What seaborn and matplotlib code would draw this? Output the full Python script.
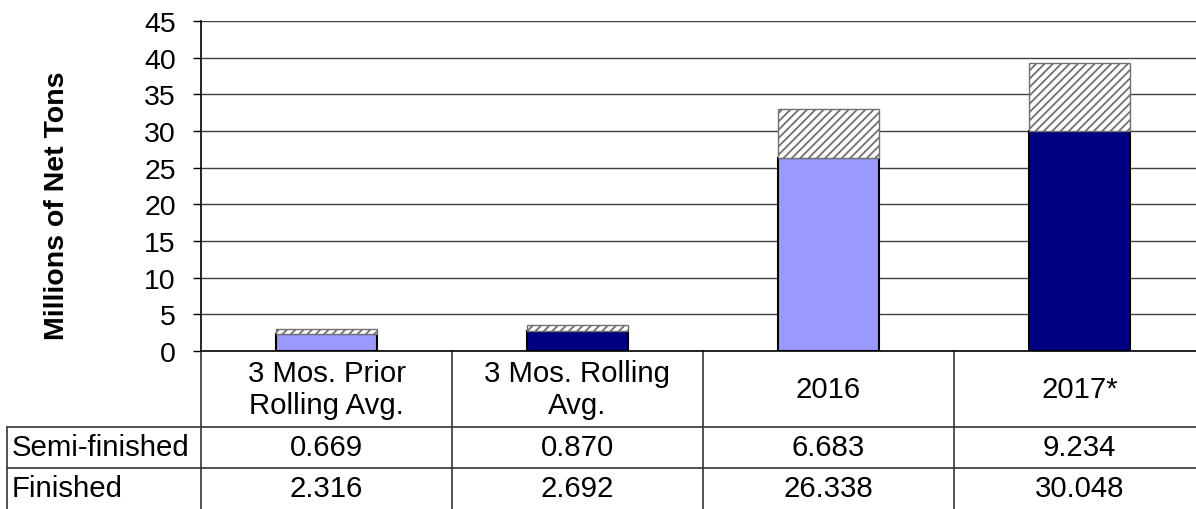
import matplotlib.pyplot as plt
import seaborn as sns
from matplotlib.transforms import blended_transform_factory

categories = ["3 Mos. Prior\nRolling Avg.", "3 Mos. Rolling\nAvg.", "2016", "2017*"]
semi_finished = [0.669, 0.870, 6.683, 9.234]
finished = [2.316, 2.692, 26.338, 30.048]
row_labels = ["Semi-finished", "Finished"]
finished_colors = ["#9999FF", "#000080", "#9999FF", "#000080"]

sns.set_theme(style="white")
plt.rcParams["font.family"] = ["Liberation Sans", "DejaVu Sans"]
plt.rcParams["hatch.linewidth"] = 1.3

W, H = 1196, 510
fig = plt.figure(figsize=(W / 100, H / 100), dpi=100)
ax = fig.add_axes([201 / W, 158 / H, 1004 / W, 330 / H])

# finished on the bottom, semi-finished hatched on top
sns.barplot(x=categories, y=finished, hue=categories, palette=finished_colors,
            legend=False, width=0.4, edgecolor="black", linewidth=1.5,
            saturation=1, errorbar=None, ax=ax)
sns.barplot(x=categories, y=semi_finished, bottom=finished, color="white",
            width=0.4, edgecolor="#707070", linewidth=1, hatch="////",
            saturation=1, errorbar=None, ax=ax)

ax.set_xlim(-0.5, 3.5)
ax.set_ylim(0, 45)
ax.set_yticks(range(0, 50, 5))
ax.set_xticks([])
ax.set_xlabel("")
ax.yaxis.grid(True, color="#404040", linewidth=1)
ax.set_axisbelow(True)
ax.tick_params(axis="y", left=True, length=6, width=1, color="black",
               labelsize=20.5, pad=12, labelcolor="black")
for side in ["top", "right"]:
    ax.spines[side].set_visible(False)
for side in ["left", "bottom"]:
    ax.spines[side].set_color("black")
    ax.spines[side].set_linewidth(1.2)

ax.set_ylabel("Millions of Net Tons", fontsize=20.5, fontweight="bold", color="black")
ax.yaxis.set_label_coords(-0.13, 0.442)

# data table under the chart
tr = blended_transform_factory(ax.transData, fig.transFigure)
line_kw = dict(color="#333333", linewidth=1.2, clip_on=False)
y_top = 158 / H
y_head = 82 / H
y_mid = 41 / H
fs = 21.2

for i in range(len(categories)):
    ax.text(i, (82 + 38) / H, categories[i], transform=tr, ha="center",
            va="center", fontsize=fs, linespacing=1.15, color="black")
    ax.text(i, (41 + 20.5) / H, f"{semi_finished[i]:.3f}", transform=tr,
            ha="center", va="center", fontsize=fs, color="black")
    ax.text(i, 20.5 / H, f"{finished[i]:.3f}", transform=tr,
            ha="center", va="center", fontsize=fs, color="black")

for i in range(len(categories)):
    ax.plot([i - 0.5, i - 0.5], [0, y_top], transform=tr, **line_kw)

fig.add_artist(plt.Line2D([7 / W, 1], [y_head, y_head], **line_kw))
fig.add_artist(plt.Line2D([7 / W, 1], [y_mid, y_mid], **line_kw))
fig.add_artist(plt.Line2D([7 / W, 7 / W], [0, y_head], **line_kw))

fig.text(12 / W, (41 + 20.5) / H, row_labels[0], ha="left", va="center",
         fontsize=fs, color="black")
fig.text(12 / W, 20.5 / H, row_labels[1], ha="left", va="center",
         fontsize=fs, color="black")

fig.savefig("out.png", dpi=100)
